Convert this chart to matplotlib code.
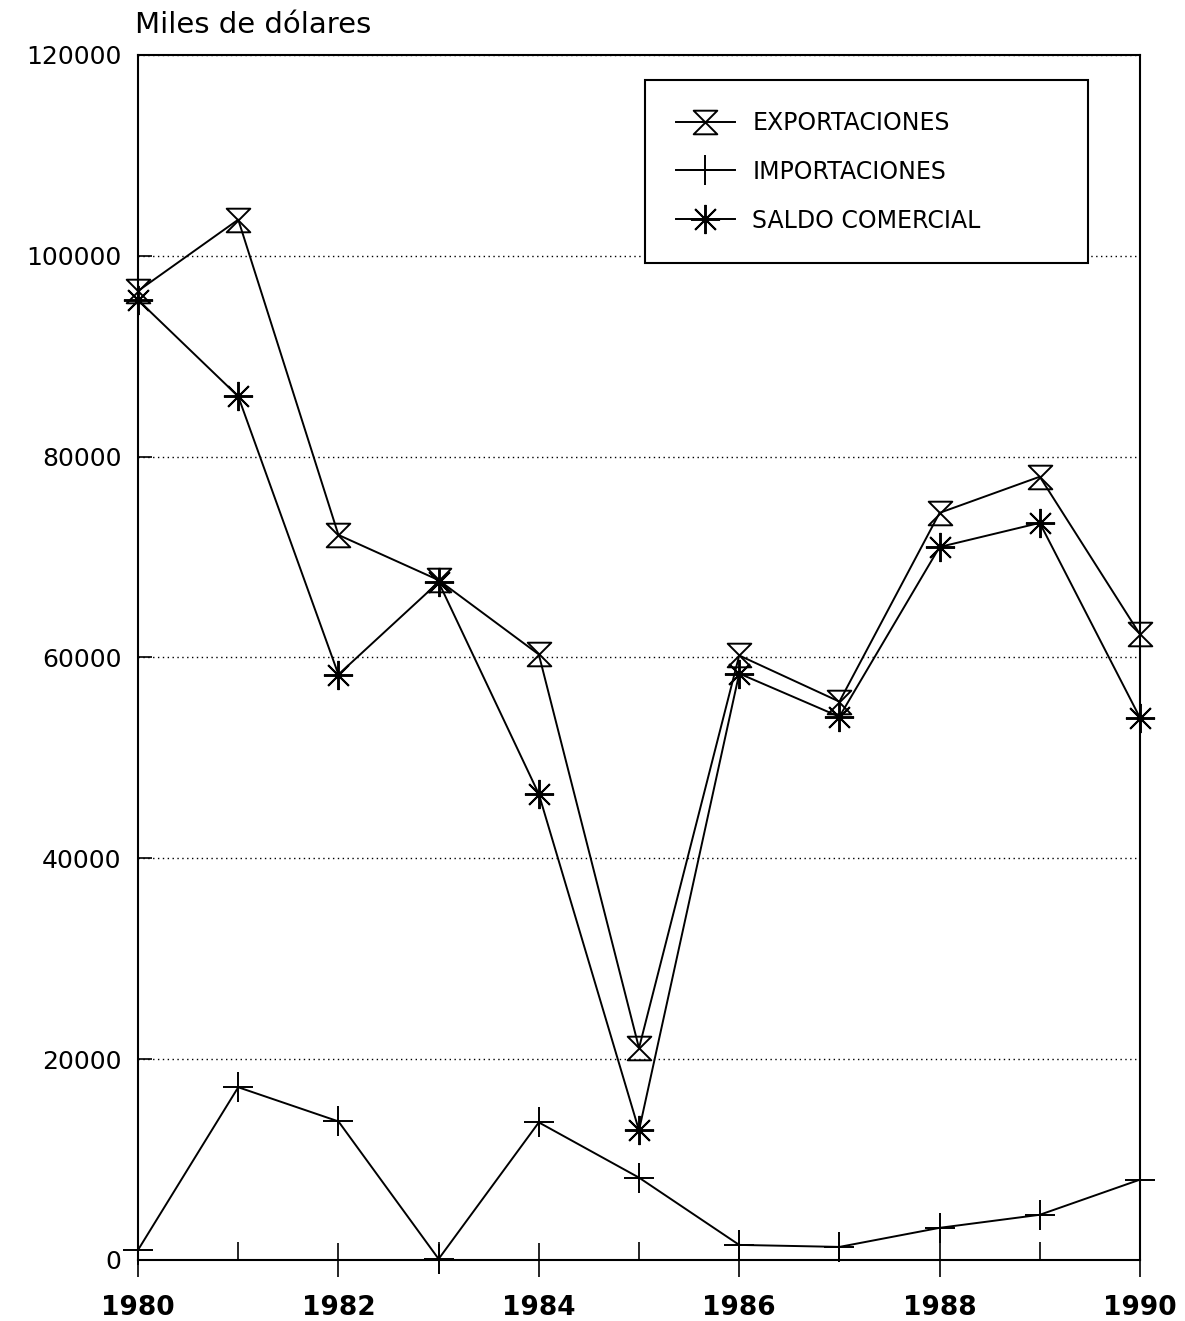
import matplotlib.pyplot as plt
from matplotlib.path import Path

years = [1980, 1981, 1982, 1983, 1984, 1985, 1986, 1987, 1988, 1989, 1990]
exportaciones = [96500, 103600, 72200, 67700, 60300, 21100, 60200, 55600, 74400, 78000, 62300]
importaciones = [1000, 17200, 13800, 100, 13700, 8200, 1500, 1300, 3200, 4500, 8000]
saldo = [95600, 86000, 58300, 67500, 46400, 12900, 58400, 54100, 71000, 73400, 54000]

labels = ["EXPORTACIONES", "IMPORTACIONES", "SALDO COMERCIAL"]
y_ticks = [0, 20000, 40000, 60000, 80000, 100000, 120000]

plt.rcParams['font.family'] = ['DejaVu Sans']

# hourglass marker: two triangles touching at the tip
hourglass = Path([(-1, 1), (1, 1), (-1, -1), (1, -1), (-1, 1)],
                 [Path.MOVETO, Path.LINETO, Path.LINETO, Path.LINETO, Path.CLOSEPOLY])

fig = plt.figure(figsize=(11.85, 13.21), dpi=100)
ax = fig.add_axes([0.1165, 0.0462, 0.8455, 0.9122])

line_style = dict(color='black', linewidth=1.4, clip_on=False)
ax.plot(years, exportaciones, marker=hourglass, markersize=17, markerfacecolor='none',
        markeredgecolor='black', markeredgewidth=1.4, label=labels[0], **line_style)
ax.plot(years, importaciones, marker='+', markersize=22,
        markeredgewidth=1.4, label=labels[1], **line_style)
ax.plot(years, saldo, marker=(8, 2, 0), markersize=21,
        markeredgewidth=1.4, label=labels[2], **line_style)

ax.set_xlim(1980, 1990)
ax.set_ylim(0, 120000)

ax.set_xticks(years[::2])
ax.set_xticks(years[1::2], minor=True)
ax.set_xticklabels([str(y) for y in years[::2]], fontsize=19, fontweight='bold')
ax.tick_params(axis='x', which='major', direction='inout', length=24, width=1.2, pad=13)
ax.tick_params(axis='x', which='minor', direction='in', length=13, width=1.2)

ax.set_yticks(y_ticks)
ax.set_yticklabels([str(v) for v in y_ticks], fontsize=18)
ax.tick_params(axis='y', direction='in', length=10, width=1.2, pad=12)

ax.grid(axis='y', which='major', color='black', linestyle=(0, (1, 2.5)), linewidth=1)
for spine in ax.spines.values():
    spine.set_linewidth(1.5)

leg = ax.legend(loc='upper left', bbox_to_anchor=(0.506, 0.979, 0.442, 0.0),
                mode='expand', borderaxespad=0, fontsize=17, frameon=True,
                fancybox=False, edgecolor='black', framealpha=1, handlelength=2.5,
                handletextpad=0.75, labelspacing=1.05, borderpad=1.3)
leg.get_frame().set_linewidth(1.5)

fig.text(0.114, 0.975, "Miles de dólares", fontsize=21, va='baseline', ha='left')

fig.savefig("out.png", dpi=100)
